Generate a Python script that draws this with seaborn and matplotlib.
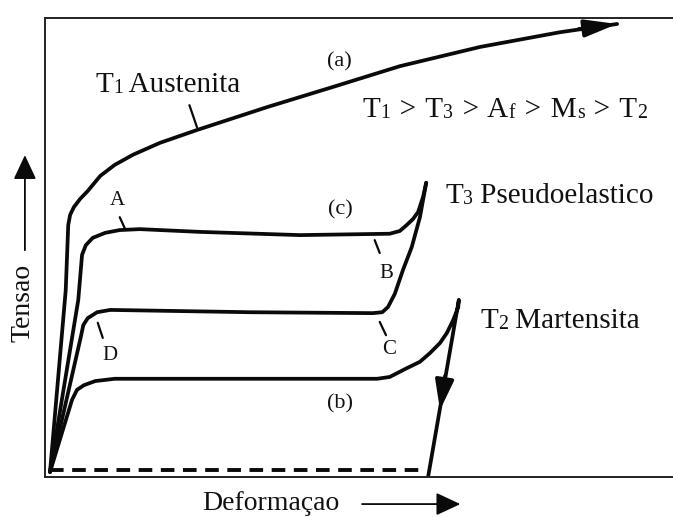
import matplotlib
matplotlib.use("Agg")
import matplotlib.pyplot as plt
import numpy as np
import pandas as pd
import seaborn as sns

# curvas tensao x deformacao (unidades arbitrarias, eixo 0-10)
# (a) T1 austenita
a_def = [0.08, 0.33, 0.37, 0.40, 0.46, 0.56, 0.68, 0.88, 1.11, 1.40, 1.83, 2.42, 3.54, 4.59, 5.65, 6.93, 8.20, 9.11]
a_ten = [0.11, 4.07, 5.49, 5.71, 5.88, 6.06, 6.23, 6.56, 6.80, 7.02, 7.28, 7.56, 8.06, 8.50, 8.95, 9.37, 9.69, 9.87]

# (c) T3 pseudoelastico - carga
c_def = [0.08, 0.53, 0.59, 0.65, 0.76, 0.96, 1.19, 1.51, 2.47, 4.06, 5.49, 5.65, 5.76, 5.86, 5.94, 6.02, 6.07]
c_ten = [0.11, 3.86, 4.84, 5.05, 5.21, 5.32, 5.38, 5.40, 5.34, 5.27, 5.30, 5.36, 5.49, 5.62, 5.77, 6.10, 6.41]
# (c) T3 pseudoelastico - descarga
cd_def = [6.07, 5.97, 5.84, 5.70, 5.57, 5.46, 5.37, 5.22, 3.26, 1.04, 0.83, 0.68, 0.61, 0.57, 0.08]
cd_ten = [6.41, 5.66, 5.01, 4.51, 3.99, 3.70, 3.59, 3.57, 3.59, 3.64, 3.59, 3.46, 3.31, 3.05, 0.11]

# (b) T2 martensita
b_def = [0.08, 0.43, 0.51, 0.62, 0.80, 1.11, 5.29, 5.49, 5.76, 5.97, 6.13, 6.29, 6.40, 6.50, 6.58, 6.59, 6.10]
b_ten = [0.11, 1.68, 1.90, 2.00, 2.09, 2.14, 2.14, 2.18, 2.37, 2.51, 2.70, 2.92, 3.14, 3.42, 3.70, 3.86, 0.00]

# deformacao residual (tracejada)
r_def = [0.08, 6.00]
r_ten = [0.15, 0.15]

# marcas A, B, C, D e marca da curva (a)
marcas = [
    ((2.30, 8.10), (2.42, 7.62)),
    ((1.19, 5.66), (1.27, 5.42)),
    ((5.25, 5.16), (5.33, 4.88)),
    ((5.33, 3.38), (5.43, 3.09)),
    ((0.84, 3.36), (0.92, 3.03)),
]
letras = {"A": (1.15, 6.03), "B": (5.43, 4.44), "C": (5.48, 2.77), "D": (1.04, 2.64)}
rotulos_curva = {"(a)": (4.68, 9.05), "(c)": (4.71, 5.82), "(b)": (4.70, 1.59)}

# textos com indices (parte, eh_indice)
sep = " \u200a>\u200a "
t_austenita = [("T", False), ("1", True), (" Austenita", False)]
t_ordem = [("T", False), ("1", True), (sep + "T", False), ("3", True), (sep + "A", False),
           ("f", True), (sep + "M", False), ("s", True), (sep + "T", False), ("2", True)]
t_pseudo = [("T", False), ("3", True), (" Pseudoelastico", False)]
t_martensita = [("T", False), ("2", True), (" Martensita", False)]

sns.set_theme(style="white")
plt.rcParams["font.family"] = ["Liberation Serif", "DejaVu Serif"]

fig = plt.figure(figsize=(6.73, 5.17), dpi=100)
ax = fig.add_axes([45 / 673, 40 / 517, 628 / 673, 459 / 517])
ax.set_xlim(0, 10)
ax.set_ylim(0, 10)
ax.set_xticks([])
ax.set_yticks([])
for lado in ["left", "top", "bottom"]:
    ax.spines[lado].set_color("#222222")
    ax.spines[lado].set_linewidth(1.4)
ax.spines["right"].set_visible(False)

cor = "#0a0a0a"
cor_txt = "#111111"
lw = 2.7
for xs, ys in [(a_def, a_ten), (c_def, c_ten), (cd_def, cd_ten), (b_def, b_ten)]:
    sns.lineplot(x=xs, y=ys, sort=False, estimator=None, color=cor, lw=lw, ax=ax)
sns.lineplot(x=r_def, y=r_ten, sort=False, estimator=None, color=cor, lw=2.8,
             ax=ax, linestyle=(0, (3.5, 2.2)))

# pontas de seta nas curvas
ax.annotate("", xy=(a_def[-1], a_ten[-1]), xytext=(8.5, 9.76),
            arrowprops=dict(arrowstyle="-|>,head_length=0.97,head_width=0.26",
                            mutation_scale=20, color=cor, lw=lw, shrinkA=0, shrinkB=0))
ax.annotate("", xy=(6.29, 1.46), xytext=(6.37, 2.2),
            arrowprops=dict(arrowstyle="-|>,head_length=0.9,head_width=0.28",
                            mutation_scale=20, color=cor, lw=lw, shrinkA=0, shrinkB=0))

for p0, p1 in marcas:
    ax.plot([p0[0], p1[0]], [p0[1], p1[1]], color=cor, lw=1.6)
for txt, (x, y) in letras.items():
    ax.text(x, y, txt, ha="center", va="center", fontsize=15, color=cor_txt)
for txt, (x, y) in rotulos_curva.items():
    ax.text(x, y, txt, ha="center", va="center", fontsize=16, color=cor_txt)


def texto_indices(x, y, partes, tam=21):
    # escreve as partes em sequencia; indices menores sobre a linha de base
    ant = None
    for s, sub in partes:
        fs = tam * 0.68 if sub else tam
        if ant is None:
            ant = ax.text(x, y, s, ha="left", va="baseline", fontsize=fs, color=cor_txt)
        else:
            ant = ax.annotate(s, xy=(1, 0), xycoords=ant, ha="left", va="bottom",
                              fontsize=fs, color=cor_txt)


texto_indices(0.80, 8.39, t_austenita)
texto_indices(5.06, 7.84, t_ordem)
texto_indices(6.37, 5.97, t_pseudo)
texto_indices(6.93, 3.25, t_martensita)

# eixos com setas
fig.text(0.034, 0.414, "Tensao", rotation=90, ha="center", va="center", fontsize=20, color=cor_txt)
ax.annotate("", xy=(0.037, 0.700), xytext=(0.037, 0.516), xycoords="figure fraction",
            arrowprops=dict(arrowstyle="-|>,head_length=0.75,head_width=0.35",
                            mutation_scale=20, color=cor, lw=1.3, shrinkA=0, shrinkB=0))
fig.text(0.403, 0.014, "Deformaçao", ha="center", va="baseline", fontsize=20, color=cor_txt)
ax.annotate("", xy=(0.684, 0.025), xytext=(0.538, 0.025), xycoords="figure fraction",
            arrowprops=dict(arrowstyle="-|>,head_length=0.75,head_width=0.35",
                            mutation_scale=20, color=cor, lw=1.3, shrinkA=0, shrinkB=0))

fig.savefig("out.png", dpi=100)
